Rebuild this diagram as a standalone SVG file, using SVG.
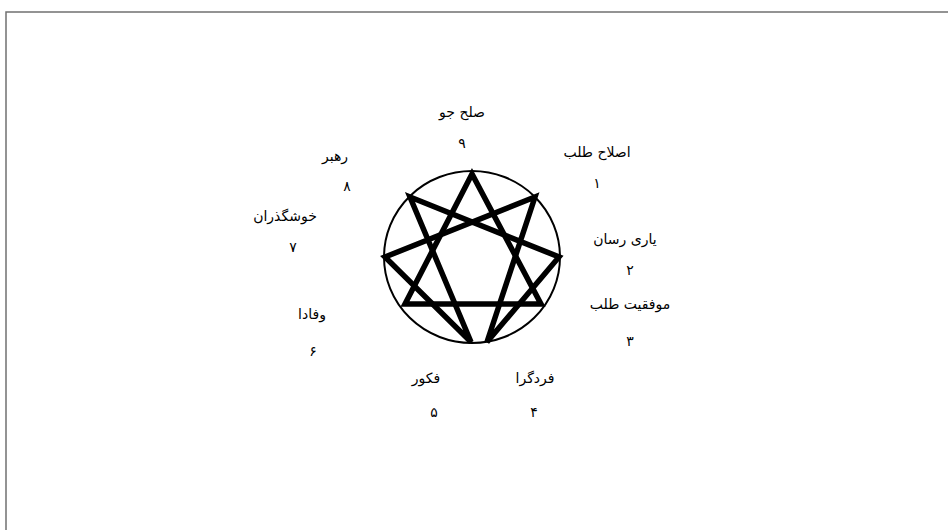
<svg xmlns="http://www.w3.org/2000/svg" width="948" height="530" viewBox="0 0 948 530">
<style>
.lbl{font-family:"DejaVu Sans","Noto Sans",sans-serif;font-size:14px;fill:#000;text-anchor:middle}
.num{font-family:"DejaVu Sans","Noto Sans",sans-serif;font-size:14px;fill:#000;text-anchor:middle}
.star{fill:none;stroke:#000;stroke-width:5.5;stroke-linejoin:miter;stroke-linecap:butt}
</style>
<rect x="6" y="12" width="960" height="540" fill="#fff" stroke="#707070" stroke-width="1.5"/>
<g id="circle">
<ellipse cx="472" cy="257" rx="88" ry="86" fill="none" stroke="#000" stroke-width="2"/>
</g>
<g id="connectors">
<polygon class="star" points="472,174 405,304 541,304"/>
<polygon class="star" points="535,197 487,342 559,257 410,197 471,342 385,257"/>
</g>
<g id="n9"><text class="lbl" x="462" y="117">صلح جو</text><text class="num" x="462" y="148">۹</text></g>
<g id="n1"><text class="lbl" x="597" y="157">اصلاح طلب</text><text class="num" x="597" y="188">۱</text></g>
<g id="n2"><text class="lbl" x="625" y="244">یاری رسان</text><text class="num" x="630" y="275">۲</text></g>
<g id="n3"><text class="lbl" x="630" y="309">موفقیت طلب</text><text class="num" x="630" y="346">۳</text></g>
<g id="n4"><text class="lbl" x="535" y="383">فردگرا</text><text class="num" x="534" y="417">۴</text></g>
<g id="n5"><text class="lbl" x="426" y="383">فکور</text><text class="num" x="434" y="417">۵</text></g>
<g id="n6"><text class="lbl" x="312" y="319">وفادا</text><text class="num" x="313" y="356">۶</text></g>
<g id="n7"><text class="lbl" x="285" y="221">خوشگذران</text><text class="num" x="293" y="252">۷</text></g>
<g id="n8"><text class="lbl" x="335" y="161">رهبر</text><text class="num" x="347" y="191">۸</text></g>
</svg>
